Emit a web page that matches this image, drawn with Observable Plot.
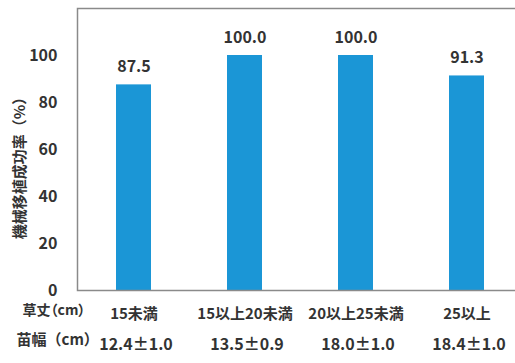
<!DOCTYPE html>
<html><head><meta charset="utf-8">
<script src="https://cdn.jsdelivr.net/npm/d3@7"></script>
<script src="https://cdn.jsdelivr.net/npm/@observablehq/plot@0.6"></script>
<style>
html,body{margin:0;padding:0;background:#fff;overflow:hidden;}
.palt text{font-feature-settings:"palt";}
</style>
</head><body><div id="chart"></div>
<script>
const categories = ["15未満", "15以上20未満", "20以上25未満", "25以上"];
const successRate = [87.5, 100.0, 100.0, 91.3];
const seedlingWidth = ["12.4±1.0", "13.5±0.9", "18.0±1.0", "18.4±1.0"];
const yTicks = [0, 20, 40, 60, 80, 100];
const yLabel = "機械移植成功率（%）";
const rowLabel1 = "草丈（cm）";
const rowLabel2 = "苗幅（cm）";

const data = categories.map((c, i) => ({cat: c, v: successRate[i], w: seedlingWidth[i]}));
const font = "'Noto Sans CJK JP', 'Noto Sans', sans-serif";
const txt = "#333";

const chart = Plot.plot({
  width: 515, height: 363,
  marginLeft: 77, marginRight: -7, marginTop: 8, marginBottom: 73,
  style: {fontFamily: font, background: "#fff", overflow: "hidden"},
  x: {domain: categories, paddingInner: 0.686, paddingOuter: 0.343, axis: null},
  y: {domain: [0, 120], ticks: yTicks, tickSize: 0, tickPadding: 20, label: null, tickFormat: d => d},
  marks: [
    Plot.barY(data, {x: "cat", y: "v", fill: "#1b96d6"}),
    Plot.frame({stroke: "#8a8a8a", strokeWidth: 1.5}),
    Plot.axisY({ticks: yTicks, tickSize: 0, tickPadding: 20, fontSize: 16, fontWeight: "bold", fill: txt, label: null}),
    Plot.text(data, {x: "cat", y: "v", text: d => d.v.toFixed(1), dy: -18, fontSize: 16, fontWeight: "bold", fill: txt}),
    Plot.text(data, {x: "cat", y: () => 0, text: "cat", dy: 24, fontSize: 15, fontWeight: "bold", fill: txt, className: "palt"}),
    Plot.text(data, {x: "cat", y: () => 0, text: "w", dy: 54, dx: 2, fontSize: 16, fontWeight: "bold", fill: txt}),
    Plot.text([rowLabel1], {frameAnchor: "bottom-left", text: d => d, dx: -55, dy: 24, textAnchor: "start", fontSize: 14, fontWeight: "bold", fill: txt, className: "palt"}),
    Plot.text([rowLabel2], {frameAnchor: "bottom-left", text: d => d, dx: -61, dy: 54, textAnchor: "start", fontSize: 15, fontWeight: "bold", fill: txt}),
    Plot.text([yLabel], {frameAnchor: "left", text: d => d, dx: -57, dy: 15, rotate: -90, textAnchor: "middle", fontSize: 15, fontWeight: "bold", fill: txt})
  ]
});
document.getElementById("chart").appendChild(chart);
</script></body></html>
